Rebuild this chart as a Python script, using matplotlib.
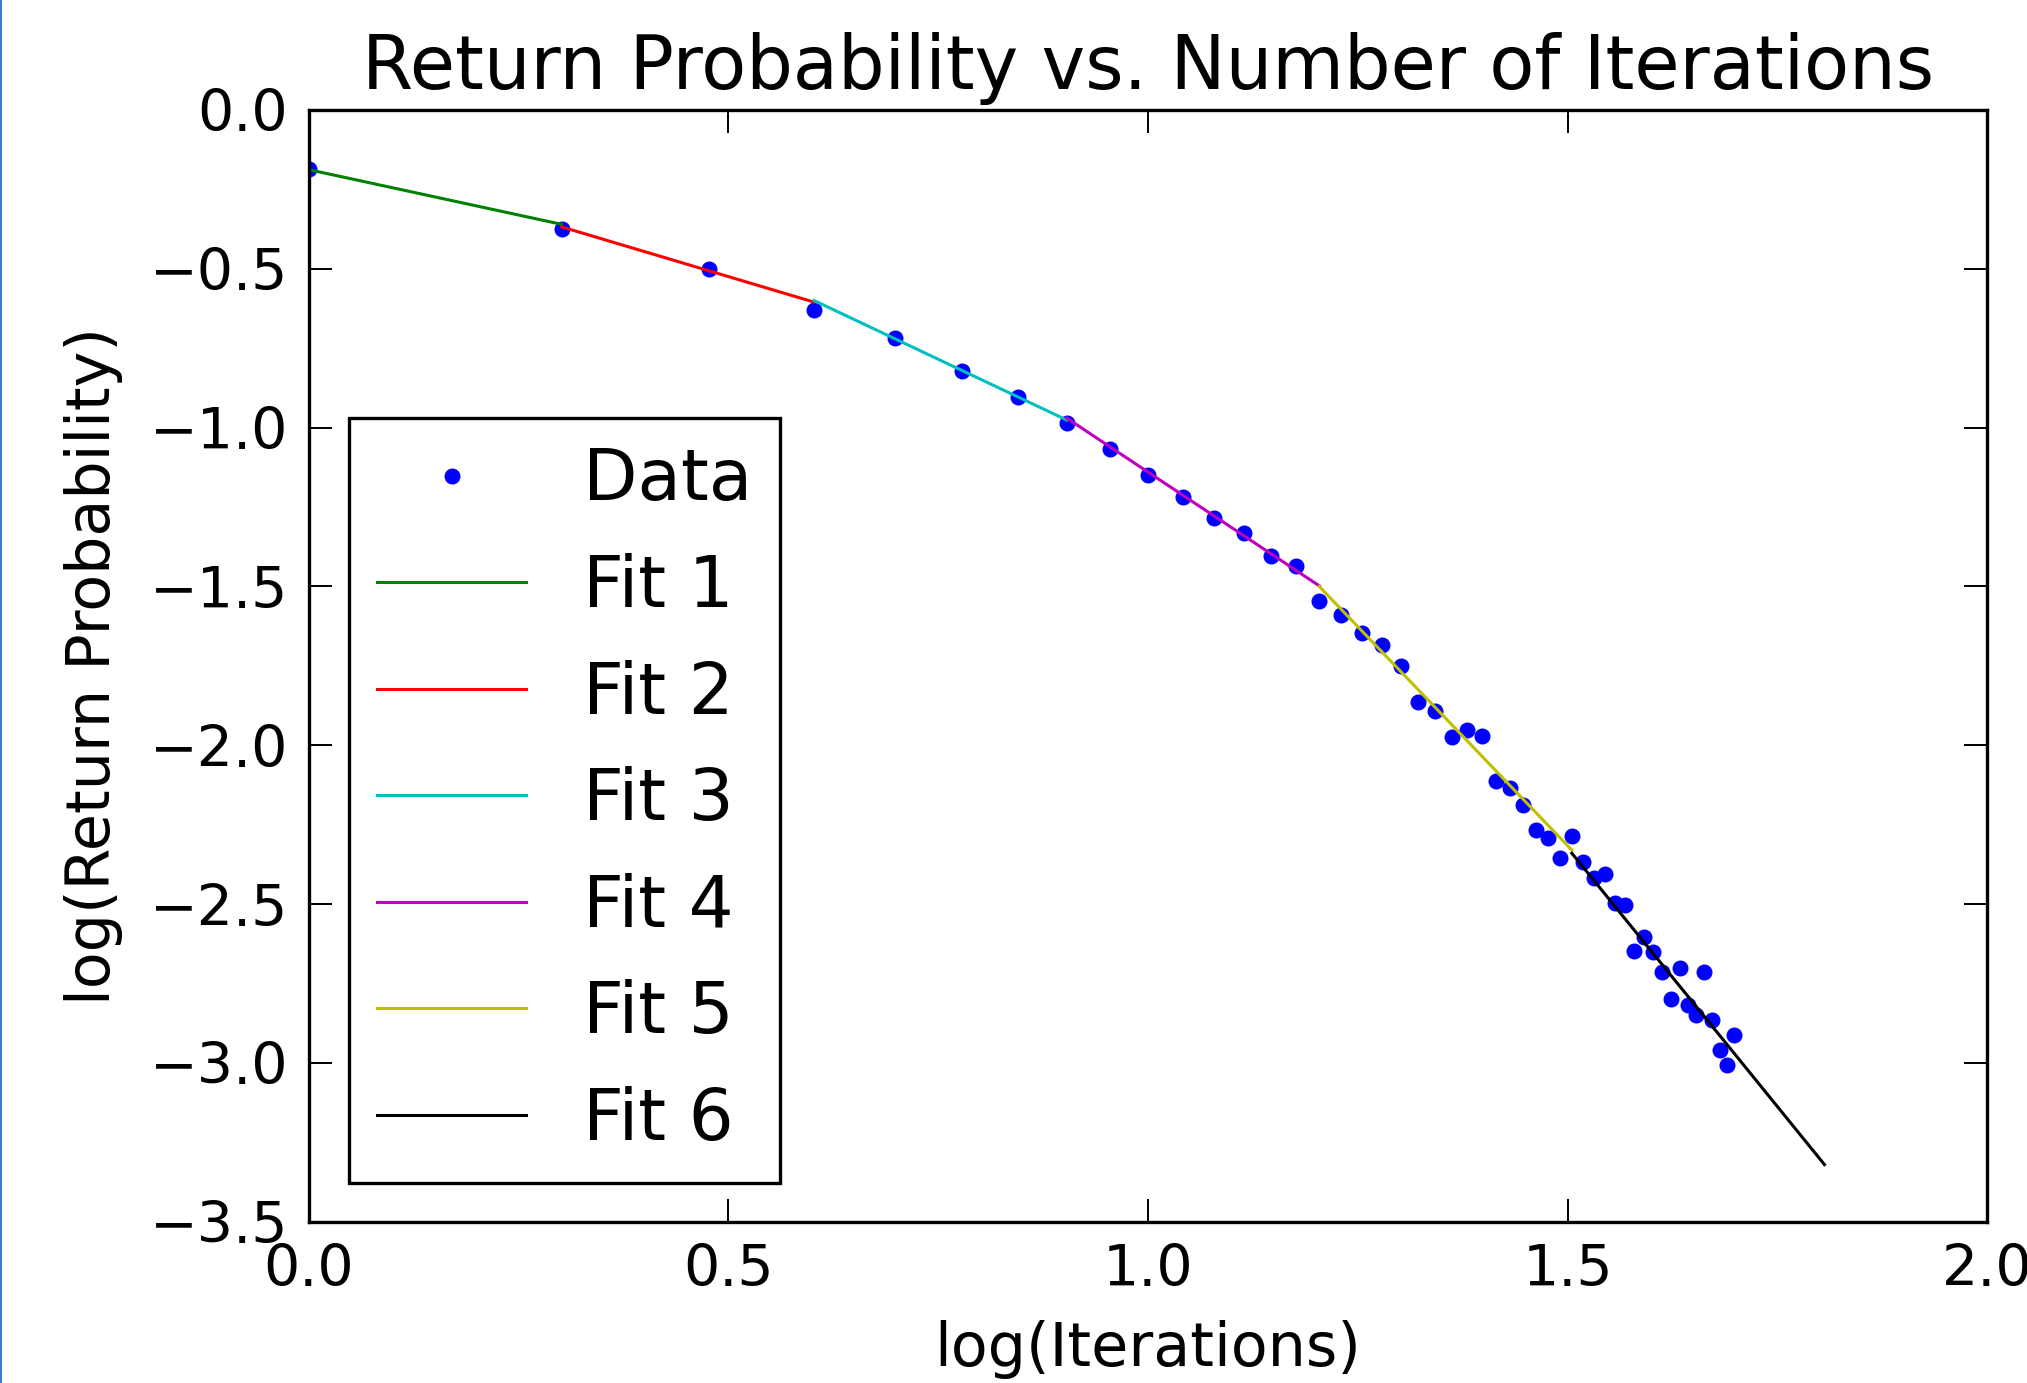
import matplotlib
matplotlib.use('Agg')
import matplotlib.pyplot as plt
import numpy as np
from matplotlib.lines import Line2D

# iteration counts and measured log10 return probability
iterations = [1, 2, 3, 4, 5, 6, 7, 8, 9, 10,
              11, 12, 13, 14, 15, 16, 17, 18, 19, 20,
              21, 22, 23, 24, 25, 26, 27, 28, 29, 30,
              31, 32, 33, 34, 35, 36, 37, 38, 39, 40,
              41, 42, 43, 44, 45, 46, 47, 48, 49, 50]
log_prob = [-0.186, -0.376, -0.500, -0.631, -0.719, -0.822, -0.905, -0.986, -1.067, -1.149,
            -1.218, -1.286, -1.333, -1.404, -1.435, -1.546, -1.591, -1.646, -1.683, -1.751,
            -1.863, -1.893, -1.975, -1.951, -1.972, -2.114, -2.135, -2.188, -2.266, -2.292,
            -2.355, -2.287, -2.366, -2.418, -2.405, -2.497, -2.503, -2.648, -2.605, -2.650,
            -2.713, -2.799, -2.702, -2.818, -2.850, -2.713, -2.865, -2.960, -3.007, -2.913]

# piecewise linear fits (iteration range boundaries and end values)
fit_bounds = [1, 2, 4, 8, 16, 32, 64]
fit_start = [-0.188, -0.368, -0.600, -0.970, -1.500, -2.340]
fit_end = [-0.360, -0.605, -0.976, -1.498, -2.330, -3.320]
fit_labels = ['Fit 1', 'Fit 2', 'Fit 3', 'Fit 4', 'Fit 5', 'Fit 6']
fit_colors = ['g', 'r', 'c', 'm', 'y', 'k']

xticks = [0.0, 0.5, 1.0, 1.5, 2.0]
yticks = [0.0, -0.5, -1.0, -1.5, -2.0, -2.5, -3.0, -3.5]

fig = plt.figure(figsize=(20.27, 13.83), dpi=100)
ax = fig.add_axes([0.1524, 0.1166, 0.8279, 0.8039])

ax.plot(np.log10(iterations), log_prob, 'o', color='b', mec='b', ms=10.5,
        label='Data')
for i in range(len(fit_labels)):
    xs = np.log10([fit_bounds[i], fit_bounds[i + 1]])
    ax.plot(xs, [fit_start[i], fit_end[i]], color=fit_colors[i], lw=2.2,
            label=fit_labels[i])

ax.set_xlim(0, 2)
ax.set_ylim(-3.5, 0)
ax.set_xticks(xticks)
ax.set_yticks(yticks)
ax.set_xticklabels([f'{v:.1f}' for v in xticks])
ax.set_yticklabels([f'{v:.1f}'.replace('-', '\u2212') for v in yticks])
ax.tick_params(direction='in', length=16.5, width=1.4, labelsize=41, pad=15,
               top=True, right=True)
for s in ax.spines.values():
    s.set_linewidth(2.4)

ax.set_title('Return Probability vs. Number of Iterations', fontsize=53, pad=15)
ax.set_xlabel('log(Iterations)', fontsize=43.5, labelpad=16)
ax.set_ylabel('log(Return Probability)', fontsize=43.5, labelpad=19)

leg = ax.legend(loc='lower left', bbox_to_anchor=(0.0238, 0.0348),
                borderaxespad=0, fontsize=51, numpoints=1, handlelength=2.1,
                handletextpad=0.8, borderpad=0.4, labelspacing=0.53,
                fancybox=False, framealpha=1)
leg.get_frame().set_edgecolor('k')
leg.get_frame().set_linewidth(2.4)

# thin blue border on the left edge
fig.add_artist(Line2D([0.0005, 0.0005], [0, 1], color='#1a5fd6', lw=1.2,
                      transform=fig.transFigure))

plt.savefig('out.png', dpi=100)
